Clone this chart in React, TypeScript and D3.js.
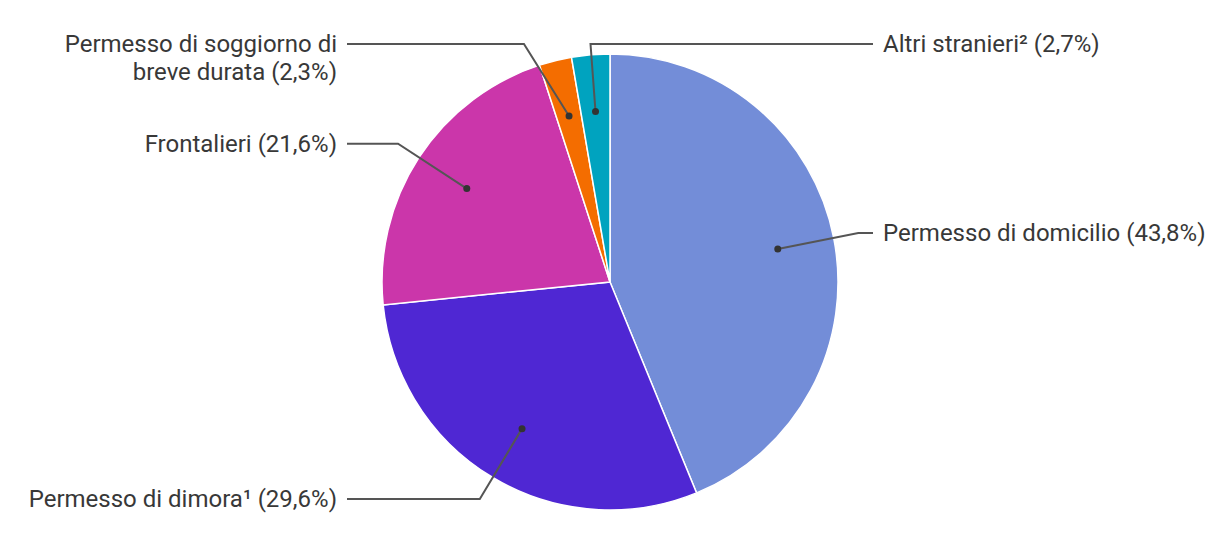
import { useEffect, useRef } from 'react';
import * as d3 from 'd3';

const labels = [
  'Permesso di domicilio',
  'Permesso di dimora¹',
  'Frontalieri',
  'Permesso di soggiorno di breve durata',
  'Altri stranieri²',
];
const values = [43.8, 29.6, 21.6, 2.3, 2.7];
const colors = ['#738dd8', '#4f27d3', '#cb36aa', '#f46d00', '#00a3bf'];
// how each label is broken into lines
const labelLines = [
  ['Permesso di domicilio (43,8%)'],
  ['Permesso di dimora¹ (29,6%)'],
  ['Frontalieri (21,6%)'],
  ['Permesso di soggiorno di', 'breve durata (2,3%)'],
  ['Altri stranieri² (2,7%)'],
];
// which side the small slices' labels go to
const labelSide = ['right', 'left', 'left', 'left', 'right'];

const App = () => {
  const svgRef = useRef<SVGSVGElement>(null);

  useEffect(() => {
    const svg = d3.select(svgRef.current);
    svg.selectAll('*').remove();

    const width = 1220;
    const height = 544;
    const cx = 610;
    const cy = 282;
    const r = 228;
    const minY = cy - r - 10;

    const data = values.map((v, i) => ({ v, i }));
    const pie = d3.pie<{ v: number; i: number }>().value(d => d.v).sort(null);
    const arcs = pie(data);

    const arc = d3.arc<d3.PieArcDatum<{ v: number; i: number }>>()
      .innerRadius(0)
      .outerRadius(r);

    const g = svg.append('g').attr('transform', `translate(${cx},${cy})`);

    g.selectAll('path.slice')
      .data(arcs)
      .enter()
      .append('path')
      .attr('class', 'slice')
      .attr('d', arc)
      .attr('fill', d => colors[d.data.i])
      .attr('stroke', '#fff')
      .attr('stroke-width', 1.5);

    const pt = (a: number, rad: number) => [Math.sin(a) * rad, -Math.cos(a) * rad];

    arcs.forEach(d => {
      const i = d.data.i;
      const mid = (d.startAngle + d.endAngle) / 2;
      const dot = pt(mid, r * 0.75);
      let elbow = pt(mid, r * 1.11);
      const side = labelSide[i];
      const isRight = side === 'right';
      const midRight = Math.sin(mid) > 0;
      if (elbow[1] < minY - cy) {
        const ly = minY - cy;
        if (isRight === midRight) {
          const rr = r * 1.11;
          const dx = Math.sqrt(Math.max(rr * rr - ly * ly, 0));
          elbow = [isRight ? dx : -dx, ly];
        } else {
          elbow = [dot[0] - 5, ly];
        }
      }
      const lineEnd = isRight ? 263 : -263;
      const textX = isRight ? 273 : -273;

      g.append('path')
        .attr('d', d3.line()([dot as [number, number], elbow as [number, number], [lineEnd, elbow[1]]]))
        .attr('fill', 'none')
        .attr('stroke', '#555')
        .attr('stroke-width', 2);

      g.append('circle')
        .attr('cx', dot[0])
        .attr('cy', dot[1])
        .attr('r', 3.5)
        .attr('fill', '#333');

      const t = g.append('text')
        .attr('x', textX)
        .attr('y', elbow[1])
        .attr('text-anchor', isRight ? 'start' : 'end')
        .attr('font-family', 'Roboto, sans-serif')
        .attr('font-size', 24)
        .attr('fill', '#383838');
      labelLines[i].forEach((line, k) => {
        t.append('tspan')
          .attr('x', textX)
          .attr('dy', k === 0 ? '0.35em' : 28)
          .text(line);
      });
    });

    svg.attr('width', width).attr('height', height);
  }, []);

  return (
    <div style={{ position: 'absolute', left: 0, top: 0 }}>
      <svg ref={svgRef} width={1220} height={544} style={{ display: 'block' }}
        aria-label={labels.join(', ')}></svg>
    </div>
  );
};

export default App;
